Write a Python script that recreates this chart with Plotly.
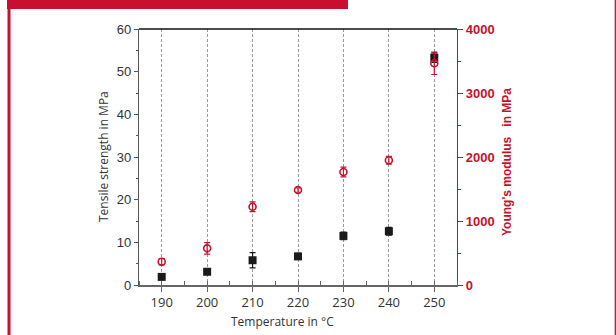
import plotly.graph_objects as go

temperature = [190, 200, 210, 220, 230, 240, 250]
tensile_strength = [1.9, 3.1, 5.8, 6.7, 11.5, 12.6, 53.3]
tensile_err = [0.4, 0.5, 1.8, 0.7, 0.9, 0.9, 1.1]
youngs_modulus = [364, 573, 1223, 1484, 1766, 1950, 3464]
youngs_err = [50, 90, 75, 35, 75, 60, 175]

RED = "#c8102e"
DARK = "#333333"

fig = go.Figure()
fig.add_trace(go.Scatter(
    x=temperature, y=youngs_modulus, yaxis="y2", mode="markers",
    marker=dict(symbol="circle-open", size=7, color=RED, line=dict(width=1.6, color=RED)),
    error_y=dict(type="data", array=youngs_err, color=RED, thickness=1.2, width=3),
    showlegend=False))
fig.add_trace(go.Scatter(
    x=temperature, y=tensile_strength, mode="markers",
    marker=dict(symbol="square", size=8, color="#1a1a1a"),
    error_y=dict(type="data", array=tensile_err, color="#1a1a1a", thickness=1.2, width=3),
    showlegend=False))

L, R, T, B = 139, 159, 29, 50
W, H = 616, 335
pw, ph = W - L - R, H - T - B

def px(x):
    return (x - L) / pw

def py(y):
    return (H - B - y) / ph

fig.update_layout(
    width=W, height=H, margin=dict(l=L, r=R, t=T, b=B),
    paper_bgcolor="white", plot_bgcolor="white",
    font=dict(family="Liberation Sans, Arial, sans-serif", color=DARK),
    xaxis=dict(range=[185, 255], tickvals=temperature, showgrid=True,
               gridcolor="#9a9a9a", griddash="3px,2px", gridwidth=1,
               showline=True, linecolor="#666666", linewidth=1.5,
               ticks="outside", ticklen=5, tickcolor="#666666",
               minor=dict(ticks="inside", dtick=5, tick0=185, ticklen=4, tickcolor="#666666"),
               tickfont=dict(family="Open Sans, sans-serif", size=13, color=DARK),
               zeroline=False),
    yaxis=dict(range=[0, 60], dtick=10, showgrid=False, zeroline=False,
               showline=True, linecolor="#555555", linewidth=1.2,
               ticks="outside", ticklen=4, tickcolor="#555555",
               minor=dict(ticks="outside", dtick=5, ticklen=2, tickcolor="#555555"),
               tickfont=dict(family="Liberation Sans, Arial, sans-serif", size=13, color=DARK)),
    yaxis2=dict(range=[0, 4000], dtick=1000, overlaying="y", side="right",
                showgrid=False, zeroline=False,
                showline=True, linecolor=RED, linewidth=1.2,
                ticks="outside", ticklen=5, tickcolor=RED,
                minor=dict(ticks="outside", dtick=500, ticklen=3, tickcolor=RED),
                tickfont=dict(family="Liberation Sans Narrow, Liberation Sans, Arial", size=13, color=RED,
                              weight="bold")),
)

fig.add_annotation(text="Tensile strength in MPa", xref="paper", yref="paper",
                   x=px(103), y=py(157), textangle=-90, showarrow=False,
                   xanchor="center", yanchor="middle",
                   font=dict(family="Open Sans, sans-serif", size=12, color=DARK))
fig.add_annotation(text="Young's modulus \u00a0\u00a0in MPa", xref="paper", yref="paper",
                   x=px(507), y=py(162), textangle=-90, showarrow=False,
                   xanchor="center", yanchor="middle",
                   font=dict(family="Liberation Sans Narrow, Liberation Sans, Arial", size=12,
                             color=RED, weight="bold"))
fig.add_annotation(text="Temperature in \u00b0C", xref="paper", yref="paper",
                   x=px(282), y=py(321), showarrow=False,
                   xanchor="center", yanchor="middle",
                   font=dict(family="Open Sans, sans-serif", size=12, color=DARK))

shapes = [
    dict(type="rect", xref="paper", yref="paper", x0=px(7), x1=px(348), y0=py(9), y1=py(-2),
         fillcolor=RED, line=dict(width=0)),
    dict(type="rect", xref="paper", yref="paper", x0=px(7.5), x1=px(10.5), y0=py(337), y1=py(8),
         fillcolor=RED, line=dict(width=0)),
    dict(type="line", xref="paper", yref="paper", x0=px(615.3), x1=px(615.3), y0=py(337), y1=py(-2),
         line=dict(color="#a8102a", width=1.2)),
    dict(type="line", xref="paper", yref="paper", x0=0, x1=1, y0=1, y1=1,
         line=dict(color="#111111", width=1.5)),
]
fig.update_layout(shapes=shapes)

fig.write_html("out.html", config={"displayModeBar": False},
               post_script="document.body.style.margin='0';document.body.style.overflow='hidden';")
